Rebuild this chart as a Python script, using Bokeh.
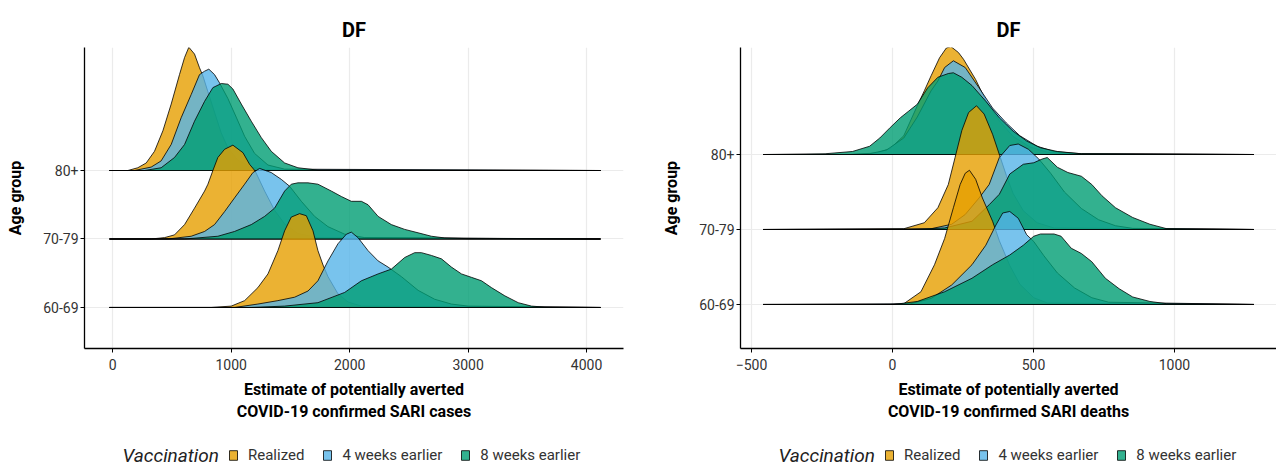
from bokeh.plotting import figure
from bokeh.layouts import row, column
from bokeh.models import FixedTicker, Legend, LegendItem, Label
from bokeh.embed import file_html
from bokeh.resources import INLINE

AGE_GROUPS = ["60-69", "70-79", "80+"]
VACCINATION = ["Realized", "4 weeks earlier", "8 weeks earlier"]
COLORS = ["#E69F00", "#56B4E9", "#009E73"]

# ---------------- cases panel: (estimate, ridge height)
CASES_RANGE = [-28, 4118]
CASES_TICKS = [0, 1000, 2000, 3000, 4000]

CASES_80_REALIZED = [(127, 0.0), (211, 0.04), (282, 0.11), (352, 0.28), (423, 0.58), (493, 0.97),
                     (563, 1.40), (606, 1.65), (642, 1.80), (690, 1.70), (732, 1.50), (761, 1.38),
                     (803, 1.15), (859, 0.85), (915, 0.55), (972, 0.33), (1056, 0.15), (1169, 0.05),
                     (1282, 0.01)]
CASES_80_4WK = [(183, 0.0), (324, 0.05), (408, 0.14), (493, 0.38), (577, 0.77), (662, 1.11),
                (732, 1.40), (775, 1.45), (811, 1.48), (859, 1.40), (901, 1.28), (972, 1.05),
                (1042, 0.78), (1113, 0.50), (1197, 0.25), (1310, 0.08), (1451, 0.02)]
CASES_80_8WK = [(268, 0.0), (408, 0.04), (521, 0.19), (606, 0.38), (690, 0.72), (775, 1.01),
                (845, 1.21), (916, 1.27), (972, 1.26), (1014, 1.19), (1085, 0.97), (1169, 0.72),
                (1254, 0.48), (1338, 0.28), (1451, 0.11), (1563, 0.04), (1732, 0.005)]

CASES_70_REALIZED = [(324, 0.0), (437, 0.02), (521, 0.06), (606, 0.21), (690, 0.45), (775, 0.70),
                     (803, 0.80), (845, 1.00), (887, 1.19), (944, 1.31), (1014, 1.37), (1099, 1.26),
                     (1155, 1.09), (1203, 0.99), (1282, 0.70), (1366, 0.42), (1451, 0.22),
                     (1563, 0.08), (1732, 0.02)]
CASES_70_4WK = [(465, 0.0), (662, 0.04), (775, 0.11), (859, 0.21), (944, 0.40), (1028, 0.60),
                (1113, 0.80), (1183, 0.97), (1240, 1.03), (1338, 0.97), (1423, 0.87), (1493, 0.77),
                (1592, 0.55), (1704, 0.33), (1817, 0.18), (1958, 0.07), (2127, 0.02)]
CASES_70_8WK = [(606, 0.0), (887, 0.04), (1028, 0.11), (1169, 0.21), (1282, 0.33), (1366, 0.45),
                (1451, 0.70), (1507, 0.80), (1563, 0.82), (1648, 0.82), (1732, 0.80), (1845, 0.70),
                (1930, 0.62), (2014, 0.55), (2099, 0.55), (2155, 0.50), (2240, 0.33), (2352, 0.21),
                (2465, 0.14), (2578, 0.09), (2690, 0.04), (2803, 0.015), (3000, 0.005)]

CASES_60_REALIZED = [(831, 0.0), (1000, 0.02), (1113, 0.10), (1225, 0.29), (1310, 0.49), (1394, 0.83),
                     (1451, 1.12), (1507, 1.32), (1577, 1.37), (1634, 1.34), (1690, 1.12), (1732, 0.83),
                     (1775, 0.62), (1817, 0.45), (1901, 0.20), (1986, 0.08), (2099, 0.02)]
CASES_60_4WK = [(1028, 0.0), (1225, 0.05), (1394, 0.10), (1535, 0.15), (1648, 0.24), (1732, 0.39),
                (1817, 0.68), (1901, 0.93), (1972, 1.07), (2014, 1.10), (2070, 1.02), (2155, 0.83),
                (2240, 0.68), (2324, 0.59), (2437, 0.45), (2578, 0.25), (2718, 0.12), (2859, 0.05),
                (3000, 0.02)]
CASES_60_8WK = [(1169, 0.0), (1451, 0.02), (1732, 0.07), (1958, 0.22), (2099, 0.39), (2240, 0.49),
                (2352, 0.56), (2465, 0.73), (2549, 0.80), (2606, 0.80), (2690, 0.76), (2775, 0.71),
                (2859, 0.59), (2944, 0.49), (3028, 0.44), (3113, 0.39), (3197, 0.29), (3310, 0.17),
                (3423, 0.07), (3535, 0.02), (3648, 0.005)]

# ---------------- deaths panel
DEATHS_RANGE = [-459, 1282]
DEATHS_TICKS = [-500, 0, 500, 1000]

DEATHS_80_REALIZED = [(-150, 0.0), (-57, 0.02), (-8, 0.08), (40, 0.25), (88, 0.65), (113, 0.85),
                      (137, 1.05), (167, 1.29), (191, 1.42), (207, 1.44), (234, 1.36), (252, 1.27),
                      (295, 1.00), (331, 0.72), (379, 0.45), (428, 0.24), (488, 0.10), (549, 0.03),
                      (622, 0.01)]
DEATHS_80_4WK = [(-150, 0.0), (-81, 0.01), (-21, 0.06), (40, 0.22), (88, 0.50), (137, 0.85),
                 (161, 0.98), (185, 1.16), (216, 1.25), (258, 1.16), (307, 0.89), (355, 0.62),
                 (404, 0.42), (452, 0.25), (513, 0.11), (573, 0.04), (670, 0.01)]
DEATHS_80_8WK = [(-239, 0.01), (-142, 0.04), (-81, 0.11), (-45, 0.22), (-8, 0.36), (28, 0.49),
                 (58, 0.58), (88, 0.67), (125, 0.89), (161, 1.03), (198, 1.08), (216, 1.09),
                 (246, 1.03), (282, 0.92), (331, 0.71), (379, 0.49), (428, 0.31), (476, 0.18),
                 (525, 0.09), (585, 0.04), (670, 0.01)]

DEATHS_70_REALIZED = [(40, 0.01), (113, 0.09), (161, 0.29), (198, 0.60), (222, 0.96), (246, 1.32),
                      (270, 1.56), (298, 1.65), (325, 1.54), (355, 1.27), (379, 1.00), (404, 0.72),
                      (428, 0.48), (464, 0.25), (513, 0.09), (573, 0.02)]
DEATHS_70_4WK = [(137, 0.01), (210, 0.07), (258, 0.20), (307, 0.42), (343, 0.60), (379, 0.96),
                 (416, 1.12), (446, 1.14), (482, 1.07), (519, 0.94), (561, 0.75), (610, 0.50),
                 (670, 0.28), (731, 0.13), (791, 0.05), (852, 0.015)]
DEATHS_70_8WK = [(64, 0.0), (185, 0.02), (282, 0.11), (343, 0.33), (379, 0.47), (416, 0.74),
                 (464, 0.87), (501, 0.89), (531, 0.94), (549, 0.96), (585, 0.83), (622, 0.76),
                 (670, 0.71), (707, 0.60), (743, 0.45), (791, 0.29), (852, 0.16), (913, 0.07),
                 (973, 0.01)]

DEATHS_60_REALIZED = [(-8, 0.0), (40, 0.01), (101, 0.17), (149, 0.53), (185, 0.88), (216, 1.29),
                      (240, 1.60), (258, 1.75), (273, 1.79), (295, 1.67), (319, 1.42), (355, 1.11),
                      (379, 0.85), (416, 0.52), (452, 0.27), (501, 0.09), (549, 0.02)]
DEATHS_60_4WK = [(64, 0.01), (137, 0.08), (210, 0.26), (282, 0.53), (331, 0.79), (367, 1.06),
                 (391, 1.22), (416, 1.24), (446, 1.15), (476, 0.93), (501, 0.84), (537, 0.65),
                 (585, 0.42), (646, 0.22), (707, 0.09), (767, 0.03)]
DEATHS_60_8WK = [(4, 0.0), (88, 0.04), (185, 0.17), (282, 0.35), (355, 0.53), (416, 0.66),
                 (464, 0.79), (501, 0.91), (525, 0.94), (573, 0.94), (598, 0.91), (634, 0.75),
                 (670, 0.68), (707, 0.57), (755, 0.35), (804, 0.21), (852, 0.10), (913, 0.04),
                 (973, 0.01)]

CASES = {
    "80+": [CASES_80_REALIZED, CASES_80_4WK, CASES_80_8WK],
    "70-79": [CASES_70_REALIZED, CASES_70_4WK, CASES_70_8WK],
    "60-69": [CASES_60_REALIZED, CASES_60_4WK, CASES_60_8WK],
}
DEATHS = {
    "80+": [DEATHS_80_REALIZED, DEATHS_80_4WK, DEATHS_80_8WK],
    "70-79": [DEATHS_70_REALIZED, DEATHS_70_4WK, DEATHS_70_8WK],
    "60-69": [DEATHS_60_REALIZED, DEATHS_60_4WK, DEATHS_60_8WK],
}

FONT = "Roboto"


def make_panel(data, drange, ticks, x_range, y_range, xlabel, border_left, frame_w, border_right):
    p = figure(output_backend="svg", toolbar_location=None,
               frame_width=frame_w, frame_height=301,
               x_range=x_range, y_range=y_range,
               min_border_left=border_left, min_border_right=border_right,
               min_border_top=47, min_border_bottom=77,
               background_fill_color="white", border_fill_color="white")
    p.outline_line_color = None

    p.title.text = "DF"
    p.title.align = "center"
    p.title.text_font = FONT
    p.title.text_font_style = "bold"
    p.title.text_font_size = "20px"
    p.title.text_color = "black"
    p.title.standoff = 12

    lo, hi = drange
    for age in ["80+", "70-79", "60-69"]:
        base = AGE_GROUPS.index(age) + 1
        for k, pts in enumerate(data[age]):
            xs = [lo] + [q[0] for q in pts] + [hi]
            ys = [base] + [base + q[1] for q in pts] + [base]
            p.patch(xs, ys, fill_color=COLORS[k], fill_alpha=0.8,
                    line_color="black", line_width=0.8)

    p.xaxis.ticker = FixedTicker(ticks=ticks)
    p.yaxis.ticker = FixedTicker(ticks=[1, 2, 3])
    p.yaxis.major_label_overrides = {1: "60-69", 2: "70-79", 3: "80+"}
    p.xgrid.ticker = FixedTicker(ticks=ticks)
    p.ygrid.ticker = FixedTicker(ticks=[1, 2, 3])
    for g in (p.xgrid, p.ygrid):
        g.grid_line_color = "#EBEBEB"
        g.grid_line_width = 1.2

    for ax in (p.xaxis, p.yaxis):
        ax.axis_line_color = "black"
        ax.axis_line_width = 1.3
        ax.major_tick_line_color = "black"
        ax.major_tick_in = 0
        ax.major_tick_out = 4
        ax.minor_tick_line_color = None
        ax.major_label_text_font = FONT
        ax.major_label_text_font_size = "14px"
        ax.major_label_text_color = "#333333"
        ax.axis_label_text_font = FONT
        ax.axis_label_text_font_style = "bold"
        ax.axis_label_text_font_size = "16px"
        ax.axis_label_text_color = "black"

    p.xaxis.axis_label = xlabel
    p.xaxis.major_label_standoff = 6
    p.xaxis.axis_label_standoff = 7
    p.yaxis.axis_label = "Age group"
    p.yaxis.major_label_standoff = 2
    p.yaxis.axis_label_standoff = 15
    return p


def make_legend(width, title_x):
    height = 41
    lf = figure(output_backend="svg", toolbar_location=None, width=width, height=height,
                x_range=(0, width), y_range=(0, height), min_border=0,
                x_axis_location=None, y_axis_location=None,
                background_fill_color="white", border_fill_color="white")
    lf.outline_line_color = None
    lf.grid.visible = False
    rends = [lf.patch([-5, -4, -4], [-5, -5, -4], fill_color=c, fill_alpha=0.8,
                      line_color="black", line_width=0.8) for c in COLORS]
    legend = Legend(items=[LegendItem(label=VACCINATION[k], renderers=[rends[k]]) for k in range(3)],
                    orientation="horizontal", location=(title_x + 106, 2))
    legend.label_text_font = FONT
    legend.label_text_font_size = "15px"
    legend.label_text_color = "#333333"
    legend.glyph_width = 10
    legend.glyph_height = 12
    legend.label_height = 18
    legend.label_standoff = 10
    legend.spacing = 18
    legend.border_line_color = None
    legend.background_fill_alpha = 0
    legend.margin = 0
    legend.padding = 0
    lf.add_layout(legend, "center")
    lf.add_layout(Label(x=title_x, y=11, text="Vaccination", text_font=FONT,
                        text_font_style="italic", text_font_size="19px",
                        text_color="#222222", text_baseline="middle", text_align="left"))
    return lf


p1 = make_panel(CASES, CASES_RANGE, CASES_TICKS, (-239, 4312), (0.401, 4.796),
                "Estimate of potentially averted\nCOVID-19 confirmed SARI cases", 84, 539, 17)
p2 = make_panel(DEATHS, DEATHS_RANGE, DEATHS_TICKS, (-539, 1362), (0.413, 4.427),
                "Estimate of potentially averted\nCOVID-19 confirmed SARI deaths", 100, 536, 0)
l1 = make_legend(640, 122)
l2 = make_legend(636, 138)

layout = column(row(p1, p2), row(l1, l2))
open("out.html", "w").write(file_html(layout, INLINE))
